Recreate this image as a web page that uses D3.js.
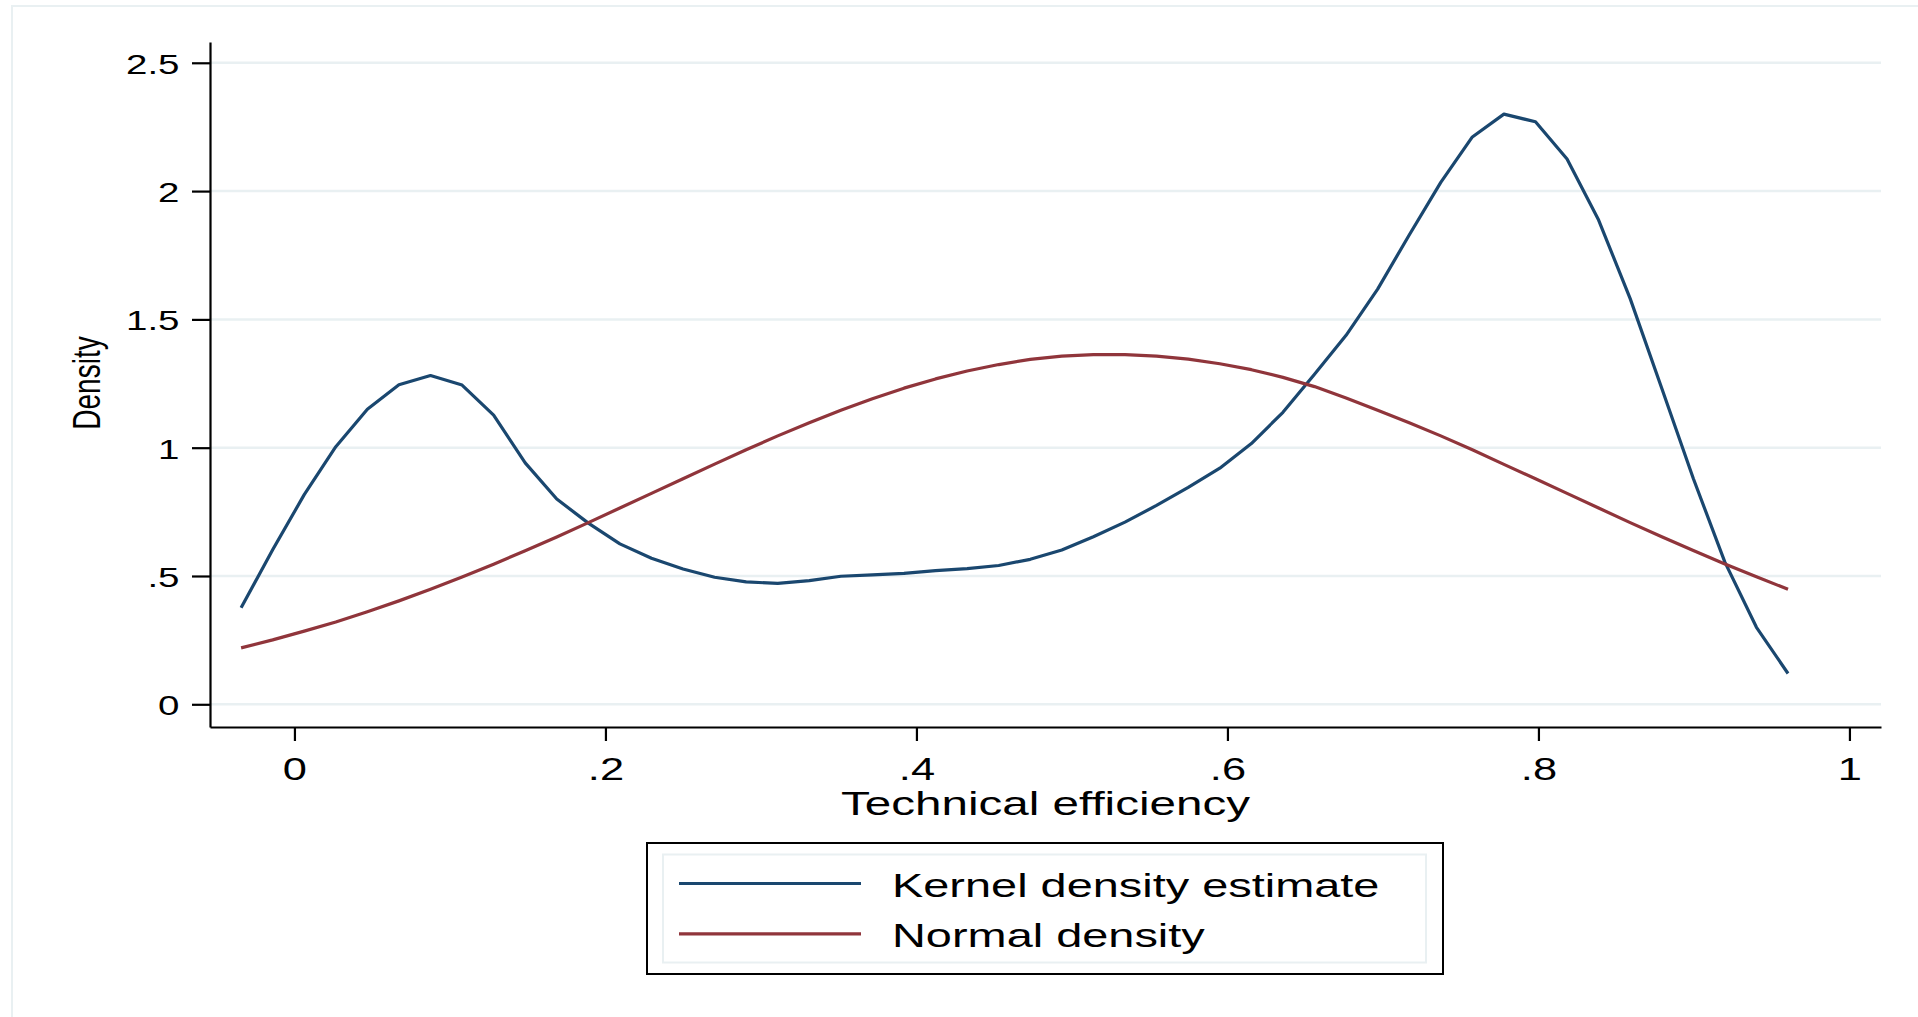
<!DOCTYPE html>
<html>
<head>
<meta charset="utf-8">
<script src="https://cdn.jsdelivr.net/npm/d3@7/dist/d3.min.js"></script>
<style>
  body { margin: 0; background: #fff; }
  text { font-family: "Liberation Sans", Arial, Helvetica, sans-serif; fill: #000; }
</style>
</head>
<body>
<div id="chart"></div>
<script>
// Evaluation points of the density (50 points).
var xValues = [
  -0.0343, -0.0140, 0.0063, 0.0266, 0.0469, 0.0672, 0.0875, 0.1078, 0.1281, 0.1484,
  0.1687, 0.1890, 0.2093, 0.2296, 0.2499, 0.2702, 0.2905, 0.3108, 0.3311, 0.3514,
  0.3717, 0.3920, 0.4123, 0.4326, 0.4529, 0.4732, 0.4935, 0.5138, 0.5341, 0.5544,
  0.5748, 0.5951, 0.6154, 0.6357, 0.6560, 0.6763, 0.6966, 0.7169, 0.7372, 0.7575,
  0.7778, 0.7981, 0.8184, 0.8387, 0.8590, 0.8793, 0.8996, 0.9199, 0.9402, 0.9605
];

var kernelDensity = [
  0.376, 0.602, 0.817, 1.004, 1.150, 1.245, 1.281, 1.244, 1.127, 0.941,
  0.800, 0.706, 0.625, 0.569, 0.527, 0.495, 0.477, 0.471, 0.482, 0.499,
  0.504, 0.510, 0.521, 0.529, 0.541, 0.565, 0.601, 0.653, 0.710, 0.775,
  0.845, 0.920, 1.016, 1.138, 1.286, 1.438, 1.618, 1.829, 2.034, 2.211,
  2.300, 2.270, 2.125, 1.887, 1.581, 1.232, 0.880, 0.554, 0.300, 0.120
];

var normalDensity = [
  0.220, 0.251, 0.285, 0.321, 0.361, 0.403, 0.448, 0.496, 0.546, 0.598,
  0.652, 0.708, 0.765, 0.822, 0.879, 0.936, 0.992, 1.046, 1.097, 1.146,
  1.191, 1.232, 1.268, 1.299, 1.324, 1.344, 1.357, 1.363, 1.363, 1.357,
  1.345, 1.327, 1.304, 1.274, 1.238, 1.194, 1.146, 1.097, 1.046, 0.992,
  0.935, 0.879, 0.822, 0.765, 0.708, 0.653, 0.599, 0.547, 0.497, 0.448
];

var xTicks = [0, 0.2, 0.4, 0.6, 0.8, 1];
var xTickLabels = ["0", ".2", ".4", ".6", ".8", "1"];
var yTicks = [0, 0.5, 1, 1.5, 2, 2.5];
var yTickLabels = ["0", ".5", "1", "1.5", "2", "2.5"];

var seriesNames = ["Kernel density estimate", "Normal density"];
var seriesColors = ["#1a476f", "#90353b"];
var xTitle = "Technical efficiency";
var yTitle = "Density";

var width = 1918;
var height = 1017;

// The picture is stretched sideways, so every text gets the same squeeze.
var stretch = 1.4;
var gridColor = "#e9f0f2";

// Plot region edges.
var plotLeft = 210, plotRight = 1881, plotTop = 42, plotBottom = 727;

var svg = d3.select("#chart")
  .append("svg")
    .attr("width", width)
    .attr("height", height);

// Outer frame of the graph region.
svg.append("rect")
  .attr("x", 12)
  .attr("y", 6)
  .attr("width", width + 20)
  .attr("height", height + 20)
  .attr("fill", "none")
  .attr("stroke", gridColor)
  .attr("stroke-width", 2);

var x = d3.scaleLinear()
  .domain([-0.0543, 1.0203])
  .range([plotLeft, plotRight]);

var y = d3.scaleLinear()
  .domain([-0.0885, 2.581])
  .range([plotBottom, plotTop]);

function translate(x, y) {
  return "translate(" + x + "," + y + ")";
}

// Horizontal grid lines.
svg.append("g")
  .selectAll("line")
  .data(yTicks)
  .enter()
  .append("line")
    .attr("x1", plotLeft)
    .attr("x2", plotRight)
    .attr("y1", function (d) { return y(d); })
    .attr("y2", function (d) { return y(d); })
    .attr("stroke", gridColor)
    .attr("stroke-width", 2.5);

// Y axis.
var yAxis = d3.axisLeft(y)
  .tickValues(yTicks)
  .tickFormat(function (d, i) { return yTickLabels[i]; })
  .tickSize(18)
  .tickSizeOuter(0);

var yAxisG = svg.append("g")
  .attr("transform", translate(plotLeft, 0))
  .call(yAxis);

yAxisG.selectAll("text")
  .attr("x", null)
  .attr("dy", null)
  .attr("transform", translate(-30.5, 10.5) + " scale(" + stretch + ",1)")
  .style("font-size", "27.5px")
  .attr("text-anchor", "end");

// X axis.
var xAxis = d3.axisBottom(x)
  .tickValues(xTicks)
  .tickFormat(function (d, i) { return xTickLabels[i]; })
  .tickSize(14)
  .tickSizeOuter(0);

var xAxisG = svg.append("g")
  .attr("transform", translate(0, plotBottom))
  .call(xAxis);

xAxisG.selectAll("text")
  .attr("y", null)
  .attr("dy", null)
  .attr("transform", translate(0, 52.5) + " scale(" + stretch + ",1)")
  .style("font-size", "31px")
  .attr("text-anchor", "middle");

[yAxisG, xAxisG].forEach(function (g) {
  g.selectAll(".domain").attr("stroke", "#000").attr("stroke-width", 2.2);
  g.selectAll(".tick line").attr("stroke", "#000").attr("stroke-width", 2.2);
});

// Axis titles.
svg.append("g")
  .attr("transform", translate((plotLeft + plotRight) / 2, 815) + " scale(" + stretch + ",1)")
  .append("text")
    .attr("text-anchor", "middle")
    .style("font-size", "34px")
    .text(xTitle);

svg.append("g")
  .attr("transform", translate(100, 383) + " scale(" + stretch + ",1) rotate(-90)")
  .append("text")
    .attr("text-anchor", "middle")
    .style("font-size", "28px")
    .text(yTitle);

// Density curves.
var line = d3.line()
  .x(function (d) { return x(d[0]); })
  .y(function (d) { return y(d[1]); });

var series = [kernelDensity, normalDensity];

series.forEach(function (values, s) {
  svg.append("path")
    .datum(xValues.map(function (xv, i) { return [xv, values[i]]; }))
    .attr("d", line)
    .attr("fill", "none")
    .attr("stroke", seriesColors[s])
    .attr("stroke-width", 3.2)
    .attr("stroke-linejoin", "round");
});

// Legend.
var legend = svg.append("g");

legend.append("rect")
  .attr("x", 647)
  .attr("y", 843)
  .attr("width", 796)
  .attr("height", 131)
  .attr("fill", "#fff")
  .attr("stroke", "#000")
  .attr("stroke-width", 2);

legend.append("rect")
  .attr("x", 663)
  .attr("y", 854.5)
  .attr("width", 763)
  .attr("height", 108)
  .attr("fill", "none")
  .attr("stroke", gridColor)
  .attr("stroke-width", 2);

var items = legend.selectAll("g.item")
  .data(seriesNames)
  .enter()
  .append("g")
    .attr("class", "item")
    .attr("transform", function (d, i) { return translate(0, 883.5 + i * 50.3); });

items.append("line")
  .attr("x1", 679)
  .attr("x2", 861)
  .attr("stroke", function (d, i) { return seriesColors[i]; })
  .attr("stroke-width", 3.2);

items.append("g")
  .attr("transform", translate(892, 13) + " scale(" + stretch + ",1)")
  .append("text")
    .style("font-size", "33.5px")
    .text(function (d) { return d; });
</script>
</body>
</html>
